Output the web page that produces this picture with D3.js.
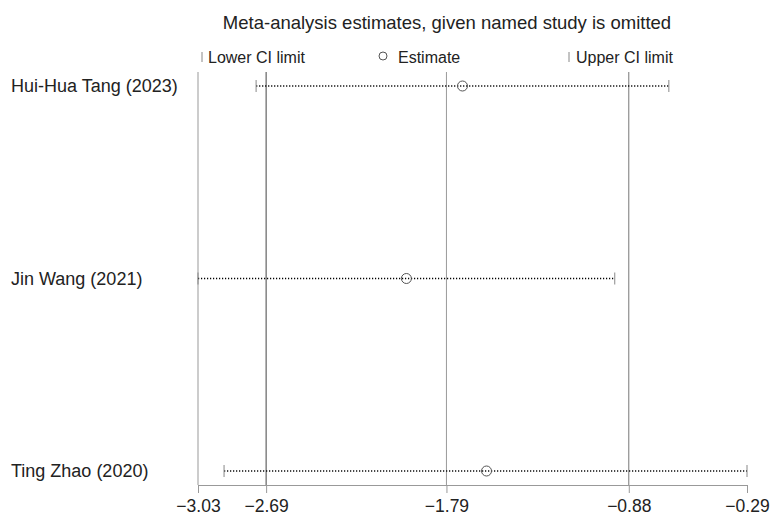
<!DOCTYPE html>
<html>
<head>
<meta charset="utf-8">
<script src="https://cdn.jsdelivr.net/npm/d3@7"></script>
<style>
  body { margin: 0; background: #fff; }
  text { font-family: "Liberation Sans", Arial, sans-serif; fill: #222; }
</style>
</head>
<body>
<svg id="chart" width="772" height="517"></svg>
<script>
// omitted study, and the pooled estimate / CI when it is left out
const studies = ["Hui-Hua Tang (2023)", "Jin Wang (2021)", "Ting Zhao (2020)"];
const estimates = [-1.71, -1.99, -1.59];
const lowerCI = [-2.74, -3.03, -2.90];
const upperCI = [-0.68, -0.95, -0.29];

// overall pooled CI lower, estimate, CI upper
const refLines = [-2.69, -1.79, -0.88];
const tickValues = [-3.03, -2.69, -1.79, -0.88, -0.29];

const rows = studies.map((s, i) => ({
    name: s, est: estimates[i], lo: lowerCI[i], hi: upperCI[i]
}));

const svg = d3.select("#chart");
const plotTop = 72, axisY = 485;

const x = d3.scaleLinear()
    .domain([d3.min(tickValues), d3.max(tickValues)])
    .range([198, 747]);

const y = d3.scalePoint()
    .domain(studies)
    .range([86, 471]);

// title
svg.append("text")
    .attr("x", 447)
    .attr("y", 29)
    .attr("text-anchor", "middle")
    .style("font-size", "18.5px")
    .text("Meta-analysis estimates, given named study is omitted");

// legend
const legend = svg.append("g").attr("transform", "translate(0,57)");
legend.append("line")
    .attr("x1", 202).attr("x2", 202).attr("y1", -5).attr("y2", 5)
    .attr("stroke", "#888");
legend.append("text").attr("x", 208).attr("y", 6)
    .style("font-size", "16px").text("Lower CI limit");
legend.append("circle")
    .attr("cx", 383).attr("cy", -1).attr("r", 4)
    .attr("fill", "none").attr("stroke", "#555");
legend.append("text").attr("x", 398).attr("y", 6)
    .style("font-size", "16px").text("Estimate");
legend.append("line")
    .attr("x1", 569).attr("x2", 569).attr("y1", -5).attr("y2", 5)
    .attr("stroke", "#888");
legend.append("text").attr("x", 576).attr("y", 6)
    .style("font-size", "16px").text("Upper CI limit");

// left frame line
svg.append("line")
    .attr("x1", x.range()[0]).attr("x2", x.range()[0])
    .attr("y1", plotTop).attr("y2", axisY)
    .attr("stroke", "#999");

// reference lines for the overall result
const refColors = ["#444", "#999", "#777"];
svg.selectAll(".ref")
    .data(refLines)
    .enter().append("line")
    .attr("class", "ref")
    .attr("x1", d => x(d)).attr("x2", d => x(d))
    .attr("y1", plotTop).attr("y2", axisY)
    .attr("stroke", (d, i) => refColors[i])
    .attr("stroke-width", 1);

// x axis
const axis = svg.append("g")
    .attr("transform", `translate(0,${axisY})`)
    .call(d3.axisBottom(x)
        .tickValues(tickValues)
        .tickFormat(d3.format(".2f"))
        .tickSize(8)
        .tickPadding(7));
axis.select(".domain").attr("stroke", "#999");
axis.selectAll(".tick line").attr("stroke", "#999");
axis.selectAll(".tick text")
    .style("font-size", "17.5px")
    .style("font-family", "'Liberation Sans', Arial, sans-serif")
    .attr("fill", "#222");

// study labels
svg.selectAll(".label")
    .data(rows)
    .enter().append("text")
    .attr("class", "label")
    .attr("x", 11)
    .attr("y", d => y(d.name))
    .attr("dy", "0.35em")
    .style("font-size", "18px")
    .text(d => d.name);

// CI lines
svg.selectAll(".ci")
    .data(rows)
    .enter().append("line")
    .attr("class", "ci")
    .attr("x1", d => x(d.lo)).attr("x2", d => x(d.hi))
    .attr("y1", d => y(d.name)).attr("y2", d => y(d.name))
    .attr("stroke", "#000")
    .attr("stroke-width", 1.5)
    .attr("stroke-dasharray", "1.2,1.8");

// CI limit ticks
["lo", "hi"].forEach(k => {
    svg.selectAll(".cap-" + k)
        .data(rows)
        .enter().append("line")
        .attr("class", "cap-" + k)
        .attr("x1", d => x(d[k])).attr("x2", d => x(d[k]))
        .attr("y1", d => y(d.name) - 6).attr("y2", d => y(d.name) + 6)
        .attr("stroke", "#888");
});

// estimates
svg.selectAll(".est")
    .data(rows)
    .enter().append("circle")
    .attr("class", "est")
    .attr("cx", d => x(d.est))
    .attr("cy", d => y(d.name))
    .attr("r", 5)
    .attr("fill", "none")
    .attr("stroke", "#555");
</script>
</body>
</html>
